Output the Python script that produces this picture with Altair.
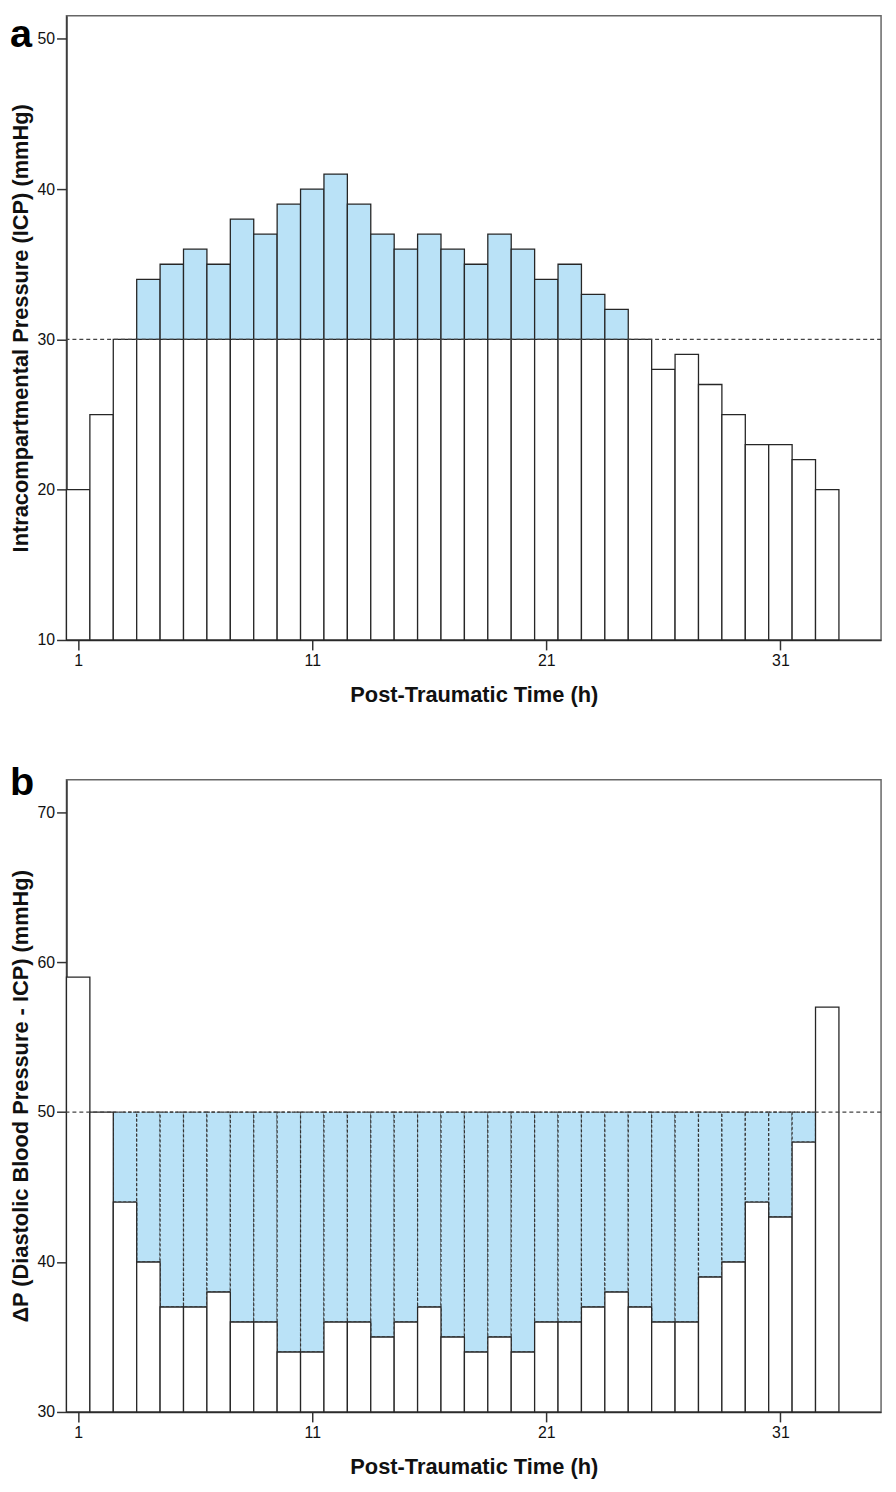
import altair as alt
import pandas as pd

# ---- data ----
hours = list(range(1, 34))
icp = [20, 25, 30, 34, 35, 36, 35, 38, 37, 39, 40, 41, 39, 37, 36, 37,
       36, 35, 37, 36, 34, 35, 33, 32, 30, 28, 29, 27, 25, 23, 23, 22, 20]
dp = [59, 50, 44, 40, 37, 37, 38, 36, 36, 34, 34, 36, 36, 35, 36, 37,
      35, 34, 35, 34, 36, 36, 37, 38, 37, 36, 36, 39, 40, 44, 43, 48, 57]
icp_threshold = 30
dp_threshold = 50
icp_floor = 10
dp_floor = 30
x_ticks = [1, 11, 21, 31]
icp_ticks = [10, 20, 30, 40, 50]
dp_ticks = [30, 40, 50, 60, 70]

FONT = "Liberation Sans"
BLUE = "#BAE2F7"
EDGE = "#262626"
W = 822
HA, HB = 630, 638

df = pd.DataFrame({"h": hours, "icp": icp, "dp": dp})
df["x0"] = df["h"] - 0.5
df["x1"] = df["h"] + 0.5
df["icp_low"] = df["icp"].clip(upper=icp_threshold)
df["icp_floor"] = icp_floor
df["icp_thr"] = icp_threshold
df["dp_floor"] = dp_floor
df["dp_thr"] = dp_threshold

xscale = alt.Scale(domain=[0.5, 35.3], nice=False, zero=False)


def xaxis():
    return alt.Axis(values=x_ticks, title="Post-Traumatic Time (h)", grid=False,
                    tickSize=10, labelPadding=3, titlePadding=16,
                    labelFontSize=16, titleFontSize=22, titleFontWeight="bold",
                    labelFont=FONT, titleFont=FONT, domainColor="#333",
                    tickColor="#333", labelColor="#111", titleColor="#111",
                    domainWidth=1.5, tickWidth=1.5)


def yaxis(vals, title):
    return alt.Axis(values=vals, title=title, grid=False, tickSize=10,
                    labelPadding=2, titlePadding=5, labelFontSize=16,
                    titleFontSize=22, titleFontWeight="bold", labelFont=FONT,
                    titleFont=FONT, domainColor="#333", tickColor="#333",
                    labelColor="#111", titleColor="#111", domainWidth=1.5,
                    tickWidth=1.5)


one = pd.DataFrame({"k": [0]})

# ---- panel a ----
ya = alt.Scale(domain=[icp_floor, 51.54], nice=False, zero=False)
base_a = alt.Chart(df)
a_low = base_a.mark_bar(fill="white", stroke=EDGE, strokeWidth=1.3).encode(
    x=alt.X("x0:Q", scale=xscale, axis=xaxis()),
    x2="x1:Q",
    y=alt.Y("icp_low:Q", scale=ya,
            axis=yaxis(icp_ticks, "Intracompartmental Pressure (ICP) (mmHg)")),
    y2="icp_floor:Q",
)
a_high = base_a.transform_filter(alt.datum.icp > icp_threshold).mark_bar(
    fill=BLUE, stroke=EDGE, strokeWidth=1.3).encode(
    x="x0:Q", x2="x1:Q", y="icp:Q", y2="icp_thr:Q")
a_rule = alt.Chart(one).mark_rule(color="#444", strokeDash=[4, 3], strokeWidth=1.2).encode(
    y=alt.datum(icp_threshold))
a_label = alt.Chart(one).mark_text(text="a", font=FONT, fontSize=40, fontWeight="bold",
                                   align="left", baseline="alphabetic", color="#000").encode(
    x=alt.value(-57), y=alt.value(32))
a_anchor_l = alt.Chart(one).mark_rule(color="white", strokeWidth=0.5).encode(
    x=alt.value(-57), x2=alt.value(-56), y=alt.value(300))
a_anchor_b = alt.Chart(one).mark_rule(color="white", strokeWidth=0.5).encode(
    x=alt.value(-57), x2=alt.value(-56), y=alt.value(HA + 72))
panel_a = alt.layer(a_low, a_high, a_rule, a_label, a_anchor_l, a_anchor_b).properties(
    width=W, height=HA)

# ---- panel b ----
yb = alt.Scale(domain=[dp_floor, 72.16], nice=False, zero=False)
base_b = alt.Chart(df)
b_high = base_b.transform_filter(alt.datum.dp < dp_threshold).mark_bar(
    fill=BLUE, stroke="#333", strokeWidth=1.2, strokeDash=[3, 2]).encode(
    x=alt.X("x0:Q", scale=xscale, axis=xaxis()),
    x2="x1:Q",
    y=alt.Y("dp_thr:Q", scale=yb,
            axis=yaxis(dp_ticks, "ΔP (Diastolic Blood Pressure - ICP) (mmHg)")),
    y2="dp:Q",
)
b_low = base_b.mark_bar(fill="white", stroke=EDGE, strokeWidth=1.3).encode(
    x="x0:Q", x2="x1:Q", y="dp:Q", y2="dp_floor:Q")
b_rule = alt.Chart(one).mark_rule(color="#444", strokeDash=[4, 3], strokeWidth=1.2).encode(
    y=alt.datum(dp_threshold))
b_label = alt.Chart(one).mark_text(text="b", font=FONT, fontSize=40, fontWeight="bold",
                                   align="left", baseline="alphabetic", color="#000").encode(
    x=alt.value(-57), y=alt.value(15))
b_anchor_l = alt.Chart(one).mark_rule(color="white", strokeWidth=0.5).encode(
    x=alt.value(-57), x2=alt.value(-56), y=alt.value(300))
b_anchor_t = alt.Chart(one).mark_rule(color="white", strokeWidth=0.5).encode(
    x=alt.value(-57), x2=alt.value(-56), y=alt.value(-40))
panel_b = alt.layer(b_high, b_low, b_rule, b_label, b_anchor_l, b_anchor_t).properties(
    width=W, height=HB)

chart = alt.vconcat(panel_a, panel_b, spacing=27).properties(
    padding={"left": 0, "top": 0, "right": 5, "bottom": 5}
).configure_view(stroke="#666", strokeWidth=1.5)

chart.save("out.html", embed_options={"renderer": "svg", "actions": False})
